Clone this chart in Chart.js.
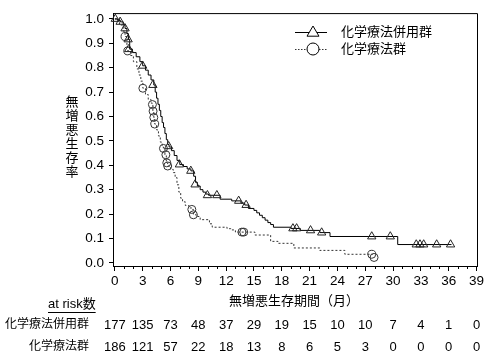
<!DOCTYPE html>
<html>
<head>
<meta charset="utf-8">
<script src="https://cdn.jsdelivr.net/npm/chart.js@4.4.0/dist/chart.umd.min.js"></script>
<style>
  html, body { margin: 0; padding: 0; background: #fff; }
  #wrap { width: 487px; height: 359px; }
</style>
</head>
<body>
<div id="wrap"><canvas id="kmChart" width="487" height="359"></canvas></div>
<script>
// Kaplan-Meier steps: [month, survival from that month on]
const comboSteps = [
  [0, 1.0], [0.3, 0.994], [0.6, 0.988], [0.9, 0.975], [1.1, 0.961], [1.3, 0.94],
  [1.45, 0.916], [1.6, 0.876], [1.9, 0.862], [2.3, 0.845], [2.7, 0.825], [3.0, 0.808],
  [3.3, 0.79], [3.6, 0.77], [3.9, 0.75], [4.2, 0.729], [4.35, 0.7], [4.5, 0.675],
  [4.65, 0.65], [4.8, 0.625], [4.95, 0.6], [5.1, 0.575], [5.25, 0.555], [5.4, 0.53],
  [5.55, 0.505], [5.7, 0.485], [5.85, 0.475], [6.1, 0.46], [6.4, 0.44], [6.7, 0.42],
  [7.0, 0.403], [7.4, 0.395], [7.8, 0.385], [8.2, 0.377], [8.5, 0.355], [8.7, 0.33],
  [8.9, 0.315], [9.2, 0.3], [9.5, 0.29], [9.8, 0.282], [10.1, 0.277], [11.35, 0.261],
  [12.6, 0.254], [13.6, 0.245], [14.0, 0.237], [14.4, 0.223], [15.0, 0.215], [15.3, 0.205],
  [15.6, 0.195], [15.9, 0.185], [16.2, 0.175], [16.5, 0.165], [16.8, 0.157], [17.1, 0.146],
  [19.0, 0.141], [20.0, 0.133], [22.1, 0.124], [23.2, 0.108], [30.5, 0.075], [36.3, 0.075]
];
const comboCensor = [
  [0.05, 1.0], [0.57, 0.988], [1.1, 0.961], [1.43, 0.916], [1.5, 0.876], [3.0, 0.808],
  [4.1, 0.729], [5.8, 0.478], [6.96, 0.403], [8.19, 0.377], [8.65, 0.321], [9.98, 0.277],
  [11.0, 0.277], [13.35, 0.254], [14.15, 0.237], [19.2, 0.141], [19.6, 0.141], [21.1, 0.133],
  [22.3, 0.124], [27.7, 0.108], [29.7, 0.108], [32.5, 0.075], [32.9, 0.075], [33.3, 0.075],
  [34.7, 0.075], [36.2, 0.075]
];
const chemoSteps = [
  [0, 1.0], [0.5, 0.975], [0.9, 0.95], [1.1, 0.928], [1.3, 0.89], [1.4, 0.869],
  [1.7, 0.85], [2.0, 0.825], [2.37, 0.795], [2.6, 0.77], [2.8, 0.745], [3.02, 0.716],
  [3.3, 0.69], [3.6, 0.67], [3.9, 0.655], [4.05, 0.649], [4.1, 0.622], [4.2, 0.596],
  [4.3, 0.569], [4.5, 0.545], [4.7, 0.52], [4.9, 0.495], [5.1, 0.475], [5.24, 0.469],
  [5.4, 0.443], [5.55, 0.41], [5.7, 0.397], [6.0, 0.383], [6.3, 0.37], [6.5, 0.35],
  [6.7, 0.32], [6.9, 0.29], [7.1, 0.265], [7.3, 0.25], [7.6, 0.235], [8.0, 0.225],
  [8.3, 0.219], [8.47, 0.197], [8.8, 0.19], [9.2, 0.177], [10.2, 0.16], [10.5, 0.146],
  [12.1, 0.14], [12.5, 0.135], [13.0, 0.126], [15.1, 0.114], [16.8, 0.088], [17.6, 0.08],
  [19.3, 0.061], [22.1, 0.051], [24.8, 0.035], [27.8, 0.035]
];
const chemoCensor = [
  [1.1, 0.928], [1.4, 0.869], [3.02, 0.716], [4.05, 0.649], [4.12, 0.622], [4.2, 0.596],
  [4.3, 0.569], [5.24, 0.469], [5.5, 0.443], [5.6, 0.41], [5.7, 0.397], [8.3, 0.219],
  [8.47, 0.197], [13.7, 0.126], [13.9, 0.126], [27.7, 0.035], [27.95, 0.022]
];

// axes and at-risk table
const xTicks = [0, 3, 6, 9, 12, 15, 18, 21, 24, 27, 30, 33, 36, 39];
const yTicks = [0, 0.1, 0.2, 0.3, 0.4, 0.5, 0.6, 0.7, 0.8, 0.9, 1.0];
const comboAtRisk = [177, 135, 73, 48, 37, 29, 19, 15, 10, 10, 7, 4, 1, 0];
const chemoAtRisk = [186, 121, 57, 22, 18, 13, 8, 6, 5, 3, 0, 0, 0, 0];

const comboName = "化学療法併用群";
const chemoName = "化学療法群";
const yTitle = "無増悪生存率";
const xTitle = "無増悪生存期間（月）";
const riskTitle = "at risk数";

const FONT = "'Liberation Sans', 'Noto Sans CJK JP', sans-serif";
const toPts = (arr) => arr.map(([x, y]) => ({ x: x, y: y }));

// Box, minor ticks, legend, titles and at-risk rows
const extrasPlugin = {
  id: "extras",
  afterDraw(chart) {
    const ctx = chart.ctx;
    const area = chart.chartArea;
    const xs = chart.scales.x;
    ctx.save();
    ctx.strokeStyle = "#000";
    ctx.lineWidth = 1;

    // top and right border
    ctx.beginPath();
    ctx.moveTo(area.left, area.top + 0.5);
    ctx.lineTo(area.right + 0.5, area.top + 0.5);
    ctx.lineTo(area.right + 0.5, area.bottom);
    ctx.stroke();

    // minor ticks every month
    ctx.beginPath();
    for (let m = 1; m < 39; m++) {
      if (m % 3 === 0) continue;
      const px = Math.round(xs.getPixelForValue(m)) + 0.5;
      ctx.moveTo(px, area.bottom);
      ctx.lineTo(px, area.bottom + 3);
    }
    ctx.stroke();

    // legend
    ctx.font = "13px " + FONT;
    ctx.fillStyle = "#000";
    ctx.textBaseline = "middle";
    ctx.textAlign = "left";
    ctx.beginPath();
    ctx.moveTo(295, 32.5);
    ctx.lineTo(327, 32.5);
    ctx.stroke();
    drawTriangle(ctx, 313, 32, 6);
    ctx.fillText(comboName, 341, 32);

    ctx.save();
    ctx.setLineDash([1.5, 1.5]);
    ctx.strokeStyle = "#333";
    ctx.beginPath();
    ctx.moveTo(295, 49.5);
    ctx.lineTo(327, 49.5);
    ctx.stroke();
    ctx.restore();
    drawCircle(ctx, 313, 49, 6);
    ctx.fillText(chemoName, 341, 49);

    // y title, one upright character per line
    ctx.textAlign = "center";
    [...yTitle].forEach((ch, i) => ctx.fillText(ch, 72, 102 + i * 14));

    // x title
    ctx.fillText(xTitle, 294, 301);

    // at risk header (underlined)
    ctx.textAlign = "left";
    ctx.fillText(riskTitle, 48, 304);
    const w = ctx.measureText(riskTitle).width;
    ctx.beginPath();
    ctx.moveTo(48, 312.5);
    ctx.lineTo(48 + w, 312.5);
    ctx.stroke();

    // at risk rows
    ctx.font = "12px " + FONT;
    ctx.textAlign = "right";
    ctx.fillText(comboName, 89, 325);
    ctx.fillText(chemoName, 89, 347);
    ctx.font = "13px " + FONT;
    ctx.textAlign = "center";
    xTicks.forEach((t, i) => {
      const px = xs.getPixelForValue(t);
      ctx.fillText(String(comboAtRisk[i]), px, 325);
      ctx.fillText(String(chemoAtRisk[i]), px, 347);
    });
    ctx.restore();
  },
};

function drawTriangle(ctx, x, y, r) {
  ctx.save();
  ctx.fillStyle = "#fff";
  ctx.strokeStyle = "#000";
  ctx.beginPath();
  ctx.moveTo(x, y - r);
  ctx.lineTo(x + r, y + r * 0.7);
  ctx.lineTo(x - r, y + r * 0.7);
  ctx.closePath();
  ctx.fill();
  ctx.stroke();
  ctx.restore();
}

function drawCircle(ctx, x, y, r) {
  ctx.save();
  ctx.fillStyle = "#fff";
  ctx.strokeStyle = "#000";
  ctx.beginPath();
  ctx.arc(x, y, r, 0, Math.PI * 2);
  ctx.fill();
  ctx.stroke();
  ctx.restore();
}

new Chart(document.getElementById("kmChart"), {
  type: "line",
  data: {
    datasets: [
      {
        label: comboName + " censor",
        data: toPts(comboCensor),
        showLine: false,
        pointStyle: "triangle",
        pointRadius: 4.8,
        pointBorderWidth: 1,
        pointBorderColor: "#222",
        pointBackgroundColor: "rgba(255,255,255,0)",
        clip: false,
        order: 1,
      },
      {
        label: comboName,
        data: toPts(comboSteps),
        stepped: "before",
        borderColor: "#000",
        borderWidth: 1,
        pointRadius: 0,
        fill: false,
        order: 2,
      },
      {
        label: chemoName + " censor",
        data: toPts(chemoCensor),
        showLine: false,
        pointStyle: "circle",
        pointRadius: 4,
        pointBorderWidth: 1,
        pointBorderColor: "#333",
        pointBackgroundColor: "rgba(255,255,255,0)",
        clip: false,
        order: 3,
      },
      {
        label: chemoName,
        data: toPts(chemoSteps),
        stepped: "before",
        borderColor: "#333",
        borderWidth: 1,
        borderDash: [2, 2],
        pointRadius: 0,
        fill: false,
        order: 4,
      },
    ],
  },
  options: {
    responsive: false,
    animation: false,
    devicePixelRatio: 1,
    layout: { padding: { left: 0, top: 6, right: 10, bottom: 0 } },
    plugins: {
      legend: { display: false },
      tooltip: { enabled: false },
    },
    scales: {
      x: {
        type: "linear",
        min: -0.2,
        max: 39.05,
        afterBuildTicks: (scale) => {
          scale.ticks = xTicks.map((v) => ({ value: v }));
        },
        afterFit: (scale) => {
          scale.height = 93;
        },
        grid: { drawOnChartArea: false, tickLength: 5, color: "#000" },
        border: { color: "#000", width: 1 },
        ticks: {
          color: "#000",
          font: { family: FONT, size: 13.5 },
          padding: 2,
          maxRotation: 0,
          autoSkip: false,
        },
      },
      y: {
        type: "linear",
        min: -0.013,
        max: 1.024,
        afterBuildTicks: (scale) => {
          scale.ticks = yTicks.map((v) => ({ value: v }));
        },
        afterFit: (scale) => {
          scale.width = 113;
        },
        grid: { drawOnChartArea: false, tickLength: 4, color: "#000" },
        border: { color: "#000", width: 1 },
        ticks: {
          color: "#000",
          font: { family: FONT, size: 13.5 },
          padding: 5,
          callback: (v) => Number(v).toFixed(1),
        },
      },
    },
  },
  plugins: [extrasPlugin],
});
</script>
</body>
</html>
